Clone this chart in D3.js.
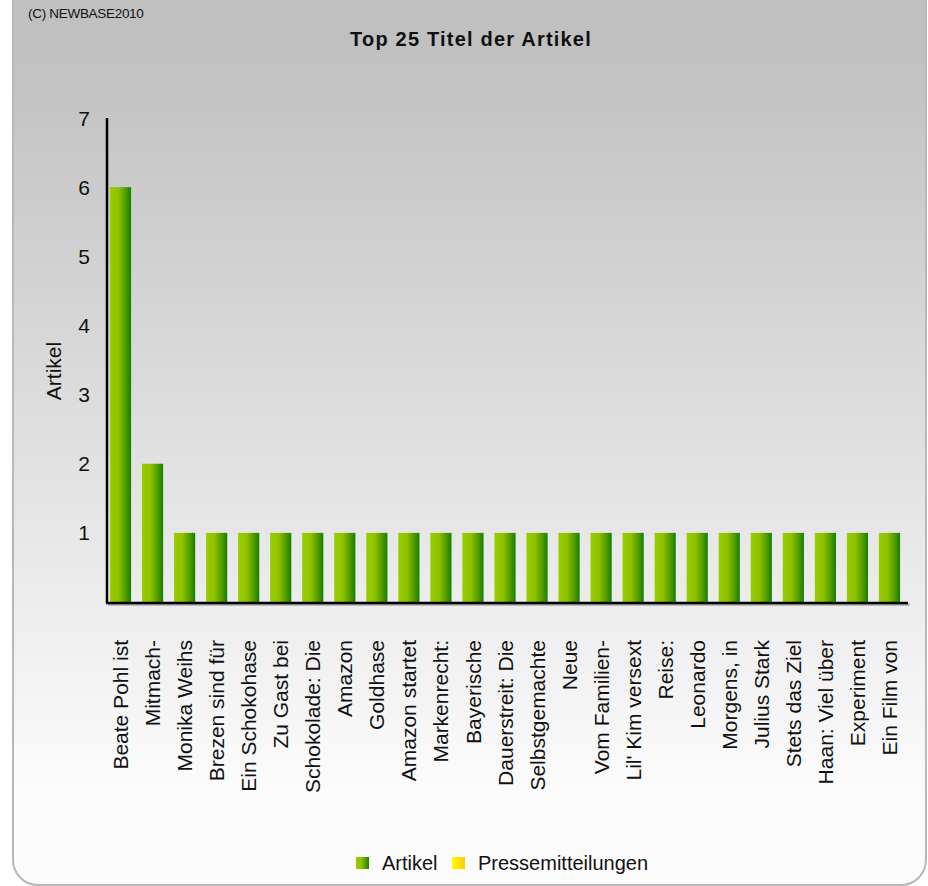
<!DOCTYPE html>
<meta charset="utf-8" />
<style>
  body { margin: 0; background: #fff; }
  svg { display: block; font-family: "Liberation Sans", Arial, sans-serif; }
</style>
<body>
  <div id="chart"></div>
  <script src="https://cdn.jsdelivr.net/npm/d3@7"></script>
  <script>
    var titel = [
      "Beate Pohl ist", "Mitmach-", "Monika Weihs", "Brezen sind für",
      "Ein Schokohase", "Zu Gast bei", "Schokolade: Die", "Amazon",
      "Goldhase", "Amazon startet", "Markenrecht:", "Bayerische",
      "Dauerstreit: Die", "Selbstgemachte", "Neue", "Vom Familien-",
      "Lil' Kim versext", "Reise:", "Leonardo", "Morgens, in",
      "Julius Stark", "Stets das Ziel", "Haan: Viel über", "Experiment",
      "Ein Film von"
    ];
    var artikel = [6, 2, 1, 1, 1, 1, 1, 1, 1, 1, 1, 1, 1, 1, 1, 1, 1, 1, 1, 1, 1, 1, 1, 1, 1];
    var yTicks = [1, 2, 3, 4, 5, 6, 7];
    var legende = ["Artikel", "Pressemitteilungen"];

    var breite = 928, hoehe = 886;

    var svg = d3.select("#chart").append("svg")
      .attr("width", breite)
      .attr("height", hoehe);

    var defs = svg.append("defs");

    // hintergrund verlauf
    var bg = defs.append("linearGradient").attr("id", "bg")
      .attr("x1", 0).attr("y1", 0).attr("x2", 0).attr("y2", 1);
    bg.append("stop").attr("offset", 0.08).attr("stop-color", "#c0c0c0");
    bg.append("stop").attr("offset", 0.9).attr("stop-color", "#fcfcfc");

    // balken verlauf
    var gruen = defs.append("linearGradient").attr("id", "gruen");
    gruen.append("stop").attr("offset", 0).attr("stop-color", "#9acc00");
    gruen.append("stop").attr("offset", 0.4).attr("stop-color", "#8ec200");
    gruen.append("stop").attr("offset", 0.75).attr("stop-color", "#4f9c00");
    gruen.append("stop").attr("offset", 1).attr("stop-color", "#167d00");

    var gelb = defs.append("linearGradient").attr("id", "gelb");
    gelb.append("stop").attr("offset", 0).attr("stop-color", "#ffff00");
    gelb.append("stop").attr("offset", 1).attr("stop-color", "#ffc800");

    svg.append("rect")
      .attr("x", 13).attr("y", -25)
      .attr("width", 913).attr("height", 910)
      .attr("rx", 25).attr("ry", 25)
      .attr("fill", "url(#bg)")
      .attr("stroke", "#b8b8b8")
      .attr("stroke-width", 2);

    svg.append("text")
      .attr("x", 28).attr("y", 18)
      .attr("font-size", "13.5px")
      .attr("letter-spacing", "-0.3px")
      .attr("fill", "#111")
      .text("(C) NEWBASE2010");

    svg.append("text")
      .attr("x", 471).attr("y", 46)
      .attr("text-anchor", "middle")
      .attr("font-size", "20px")
      .attr("font-weight", "bold")
      .attr("letter-spacing", "1.2px")
      .attr("fill", "#111")
      .text("Top 25 Titel der Artikel");

    var x = d3.scaleBand()
      .domain(titel)
      .range([104.5, 905.5])
      .paddingInner(0.34)
      .paddingOuter(0.17);

    var y = d3.scaleLinear()
      .domain([0, 7])
      .range([602, 118]);

    // balken
    svg.selectAll("rect.balken")
      .data(artikel)
      .enter()
      .append("rect")
      .attr("class", "balken")
      .attr("x", function (d, i) { return x(titel[i]); })
      .attr("width", x.bandwidth())
      .attr("y", function (d) { return y(d); })
      .attr("height", function (d) { return y(0) - y(d); })
      .attr("fill", "url(#gruen)");

    // achsen
    svg.append("line")
      .attr("x1", 107).attr("x2", 107)
      .attr("y1", y(7)).attr("y2", y(0) + 1)
      .attr("stroke", "#000").attr("stroke-width", 2.5);

    // schatten der x-achse
    svg.append("line")
      .attr("x1", 108).attr("x2", 909.5)
      .attr("y1", y(0) + 2.5).attr("y2", y(0) + 2.5)
      .attr("stroke", "#aaa").attr("stroke-width", 2.5);

    svg.append("line")
      .attr("x1", 106).attr("x2", 908)
      .attr("y1", y(0) + 1).attr("y2", y(0) + 1)
      .attr("stroke", "#000").attr("stroke-width", 2.5);

    svg.selectAll("text.ytick")
      .data(yTicks)
      .enter()
      .append("text")
      .attr("class", "ytick")
      .attr("x", 90)
      .attr("y", function (d) { return y(d); })
      .attr("dy", "0.36em")
      .attr("text-anchor", "end")
      .attr("font-size", "21px")
      .attr("fill", "#111")
      .text(function (d) { return d; });

    svg.append("text")
      .attr("transform", "translate(61,371) rotate(-90)")
      .attr("text-anchor", "middle")
      .attr("font-size", "21px")
      .attr("fill", "#111")
      .text("Artikel");

    svg.selectAll("text.xlabel")
      .data(titel)
      .enter()
      .append("text")
      .attr("class", "xlabel")
      .attr("transform", function (d) {
        return "translate(" + (x(d) + x.bandwidth() / 2) + ",640) rotate(-90)";
      })
      .attr("dy", "0.36em")
      .attr("text-anchor", "end")
      .attr("font-size", "21px")
      .attr("fill", "#111")
      .text(function (d) { return d; });

    // legende
    var legX = [356, 452];
    var legFill = ["url(#gruen)", "url(#gelb)"];
    var leg = svg.selectAll("g.leg")
      .data(legende)
      .enter()
      .append("g")
      .attr("class", "leg")
      .attr("transform", function (d, i) { return "translate(" + legX[i] + ",857)"; });

    leg.append("rect")
      .attr("width", 13).attr("height", 12)
      .attr("fill", function (d, i) { return legFill[i]; });

    leg.append("text")
      .attr("x", 26).attr("y", 6)
      .attr("dy", "0.36em")
      .attr("font-size", "20px")
      .attr("fill", "#111")
      .text(function (d) { return d; });
  </script>
</body>
